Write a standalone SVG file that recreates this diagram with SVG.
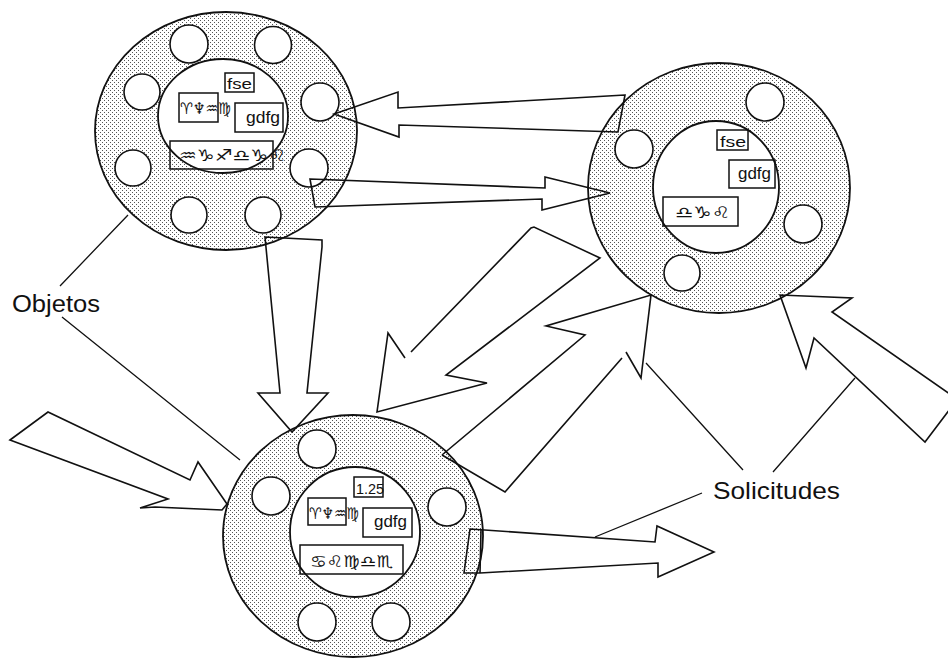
<svg xmlns="http://www.w3.org/2000/svg" width="948" height="660" viewBox="0 0 948 660">
<defs>
<pattern id="dots" x="0" y="0" width="4" height="4" patternUnits="userSpaceOnUse">
<rect x="0" y="0" width="1" height="1" fill="#555"/>
<rect x="2" y="2" width="1" height="1" fill="#555"/>
</pattern>
<style>
.ring{fill:url(#dots);stroke:#111;stroke-width:1.8}
.core{fill:#fff;stroke:#111;stroke-width:1.8}
.hole{fill:#fff;stroke:#111;stroke-width:1.6}
.box{fill:none;stroke:#111;stroke-width:1.5}
.t{font-family:"Liberation Sans",Arial,sans-serif;fill:#111}
.s{font-family:"DejaVu Sans","Noto Sans",sans-serif;fill:#111}
.c{fill:none;stroke:#111;stroke-width:1.6;stroke-linejoin:miter}
.lead{fill:none;stroke:#111;stroke-width:1.3}
</style>
</defs>
<rect width="948" height="660" fill="#fff"/>

<g id="objeto-a">
<ellipse class="ring" cx="226" cy="131" rx="131" ry="119"/>
<ellipse class="core" cx="223" cy="116" rx="65" ry="57"/>
<circle class="hole" cx="189" cy="44" r="19"/>
<circle class="hole" cx="273" cy="45" r="18.5"/>
<circle class="hole" cx="142" cy="92" r="18"/>
<circle class="hole" cx="320" cy="102" r="19"/>
<circle class="hole" cx="133" cy="168" r="18"/>
<circle class="hole" cx="309" cy="168" r="19"/>
<circle class="hole" cx="189" cy="215" r="18"/>
<circle class="hole" cx="263" cy="215" r="18"/>
<rect class="box" x="225" y="73" width="29" height="19"/>
<text class="t" x="227" y="89" font-size="15" textLength="25" lengthAdjust="spacingAndGlyphs">fse</text>
<rect class="box" x="179" y="93" width="39" height="29"/>
<text class="s" x="180" y="114" font-size="16" textLength="51" lengthAdjust="spacingAndGlyphs">♈♆♒♍</text>
<rect class="box" x="235" y="103" width="48" height="29"/>
<text class="t" x="246" y="123" font-size="17" textLength="34" lengthAdjust="spacingAndGlyphs">gdfg</text>
<rect class="box" x="170" y="141" width="103" height="28"/>
<text class="s" x="179" y="161" font-size="16" textLength="107" lengthAdjust="spacingAndGlyphs">♒♑♐♎♑♌</text>
</g>

<g id="objeto-b">
<ellipse class="ring" cx="719" cy="188" rx="131" ry="125"/>
<ellipse class="core" cx="716" cy="187" rx="63" ry="66"/>
<circle class="hole" cx="765" cy="102" r="19"/>
<circle class="hole" cx="634" cy="149" r="19"/>
<circle class="hole" cx="803" cy="224" r="19"/>
<circle class="hole" cx="682" cy="273" r="18"/>
<rect class="box" x="717" y="130" width="31" height="20"/>
<text class="t" x="720" y="147" font-size="15" textLength="26" lengthAdjust="spacingAndGlyphs">fse</text>
<rect class="box" x="729" y="160" width="46" height="28"/>
<text class="t" x="738" y="179" font-size="17" textLength="33" lengthAdjust="spacingAndGlyphs">gdfg</text>
<rect class="box" x="663" y="197" width="75" height="29"/>
<text class="s" x="675" y="218" font-size="16" textLength="55" lengthAdjust="spacingAndGlyphs">♎♑♌</text>
</g>

<g id="objeto-c">
<ellipse class="ring" cx="353" cy="536" rx="130" ry="121"/>
<ellipse class="core" cx="355" cy="532" rx="65" ry="65"/>
<circle class="hole" cx="317" cy="449" r="19"/>
<circle class="hole" cx="271" cy="496" r="19"/>
<circle class="hole" cx="447" cy="507" r="19"/>
<circle class="hole" cx="317" cy="622" r="19"/>
<circle class="hole" cx="391" cy="622" r="19"/>
<rect class="box" x="354" y="477" width="29" height="20"/>
<text class="t" x="356" y="494" font-size="15" textLength="28" lengthAdjust="spacingAndGlyphs">1.25</text>
<rect class="box" x="308" y="498" width="38" height="27"/>
<text class="s" x="309" y="519" font-size="16" textLength="50" lengthAdjust="spacingAndGlyphs">♈♆♒♍</text>
<rect class="box" x="363" y="508" width="49" height="29"/>
<text class="t" x="374" y="527" font-size="17" textLength="33" lengthAdjust="spacingAndGlyphs">gdfg</text>
<rect class="box" x="300" y="545" width="103" height="29"/>
<text class="s" x="310" y="567" font-size="16" textLength="83" lengthAdjust="spacingAndGlyphs">♋♌♍♎♏</text>
</g>

<g id="connectors">
<path class="c" d="M625,95 L398,108 L398,92 L334,114 L399,137 L399,125 L618,132 Z"/>
<path class="c" d="M310,179 L545,188 L545,177 L610,193 L542,210 L542,199 L315,207 Z"/>
<path class="c" d="M265,237 L322,240 L322,247 L307,393 L328,393 L292,432 L258,393 L280,393 Z"/>
<path class="c" d="M411,352 L531,228 L534,227 L600,258 L446,375 L487,383 L377,412 L388,333 L405,358"/>
<path class="c" d="M442,455 L585,335 L546,326 L651,295 L641,378 L626,352 M622,358 L505,492 L442,455"/>
<path class="c" d="M960,401 L832,312 L852,298 L780,295 L806,368 L814,338 L925,442 L950,409"/>
<path class="c" d="M10,440 L48,412 L190,480 L198,462 L227,504 L222,510 L155,507 L140,508 L168,499 Z"/>
<path class="c" d="M470,529 L655,542 L657,526 L714,552 L658,577 L658,563 L480,573 L464,573 Z"/>
<path class="c" d="M481,530 L480,573"/>
</g>

<g id="etiqueta-objetos">
<text class="t" x="12" y="312" font-size="23" textLength="88" lengthAdjust="spacingAndGlyphs">Objetos</text>
<path class="lead" d="M60,286 L128,215 M62,317 L240,460"/>
</g>

<g id="etiqueta-solicitudes">
<text class="t" x="713" y="499" font-size="24" textLength="127" lengthAdjust="spacingAndGlyphs">Solicitudes</text>
<path class="lead" d="M646,363 L743,470 M855,378 L773,472 M702,493 L595,537"/>
</g>
</svg>
